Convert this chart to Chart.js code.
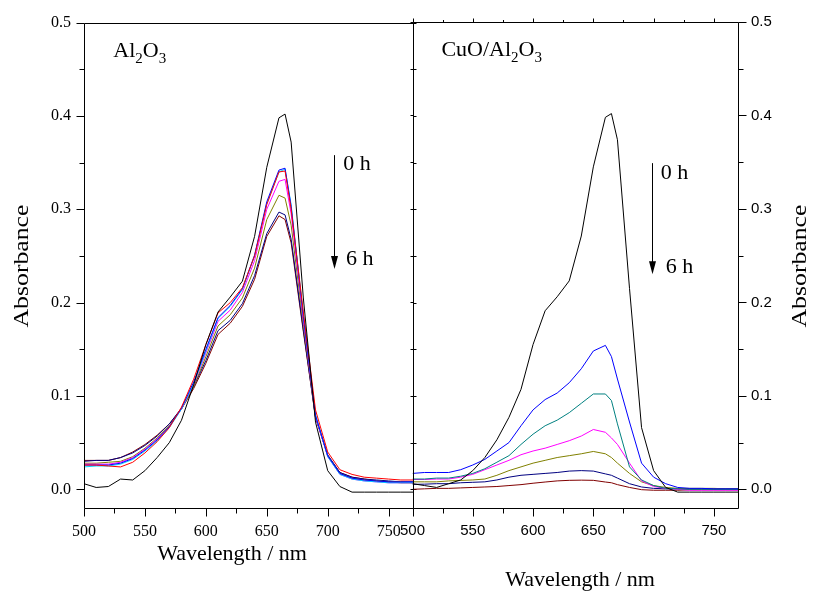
<!DOCTYPE html>
<html lang="en">
    <head>
        <meta charset="UTF-8" />
        <title>Absorbance spectra</title>
        <script src="https://cdn.jsdelivr.net/npm/chart.js"></script>
        <style>
            body {
                margin: 0;
                background: #fff;
            }

            #wrap {
                position: relative;
                width: 813px;
                height: 592px;
            }

            .panel {
                position: absolute;
                top: 0;
                height: 592px;
            }

            #left {
                left: 0;
                width: 420px;
            }

            #right {
                left: 386px;
                width: 427px;
            }
        </style>
    </head>
    <body>
        <div id="wrap">
            <div class="panel" id="left"><canvas id="alChart"></canvas></div>
            <div class="panel" id="right"><canvas id="cuChart"></canvas></div>
        </div>

        <script>
            // wavelengths (nm) shared by every curve
            const wavelengths = [500, 510, 520, 530, 540, 550, 560, 570, 580, 590, 600, 610, 620, 630, 640, 650, 660, 665, 670, 680, 690, 700, 710, 720, 730, 740, 750, 760, 770];

            // Al2O3 panel, 0 h (black) down to 6 h
            const alBlack = [0.006, 0.002, 0.003, 0.011, 0.010, 0.020, 0.034, 0.050, 0.074, 0.112, 0.155, 0.190, 0.206, 0.223, 0.271, 0.345, 0.398, 0.402, 0.372, 0.205, 0.072, 0.020, 0.003, -0.003, -0.003, -0.003, -0.003, -0.003, -0.003];
            const alRed = [0.026, 0.026, 0.025, 0.024, 0.029, 0.039, 0.051, 0.066, 0.088, 0.118, 0.155, 0.189, 0.200, 0.216, 0.250, 0.305, 0.340, 0.341, 0.300, 0.190, 0.085, 0.040, 0.021, 0.016, 0.013, 0.012, 0.011, 0.010, 0.010];
            const alBlue = [0.026, 0.026, 0.026, 0.028, 0.033, 0.042, 0.053, 0.067, 0.087, 0.115, 0.150, 0.184, 0.197, 0.215, 0.251, 0.308, 0.342, 0.344, 0.303, 0.185, 0.079, 0.036, 0.017, 0.012, 0.010, 0.009, 0.008, 0.008, 0.008];
            const alCyan = [0.024, 0.025, 0.025, 0.027, 0.032, 0.041, 0.052, 0.066, 0.086, 0.113, 0.148, 0.183, 0.196, 0.214, 0.250, 0.306, 0.340, 0.343, 0.305, 0.187, 0.080, 0.035, 0.016, 0.011, 0.009, 0.008, 0.007, 0.007, 0.007];
            const alMagenta = [0.027, 0.027, 0.027, 0.029, 0.034, 0.043, 0.054, 0.067, 0.086, 0.112, 0.146, 0.180, 0.192, 0.211, 0.245, 0.300, 0.330, 0.332, 0.295, 0.182, 0.078, 0.035, 0.016, 0.011, 0.009, 0.008, 0.007, 0.007, 0.007];
            const alOlive = [0.028, 0.028, 0.029, 0.030, 0.035, 0.044, 0.055, 0.068, 0.086, 0.110, 0.142, 0.175, 0.187, 0.205, 0.237, 0.289, 0.315, 0.312, 0.283, 0.177, 0.078, 0.036, 0.017, 0.012, 0.010, 0.009, 0.008, 0.008, 0.007];
            const alNavy = [0.030, 0.031, 0.031, 0.034, 0.039, 0.047, 0.057, 0.070, 0.087, 0.110, 0.138, 0.170, 0.181, 0.199, 0.229, 0.274, 0.297, 0.294, 0.268, 0.171, 0.077, 0.037, 0.018, 0.013, 0.011, 0.010, 0.009, 0.008, 0.008];
            const alWine = [0.031, 0.031, 0.031, 0.034, 0.040, 0.048, 0.058, 0.070, 0.086, 0.108, 0.135, 0.166, 0.178, 0.196, 0.225, 0.271, 0.293, 0.289, 0.264, 0.169, 0.077, 0.036, 0.018, 0.013, 0.011, 0.009, 0.008, 0.007, 0.007];

            // CuO/Al2O3 panel
            const cuBlack = [0.006, 0.004, 0.002, 0.006, 0.010, 0.020, 0.034, 0.053, 0.077, 0.107, 0.155, 0.191, 0.206, 0.223, 0.271, 0.345, 0.398, 0.402, 0.374, 0.215, 0.066, 0.020, 0.002, -0.003, -0.003, -0.003, -0.003, -0.003, -0.003];
            const cuBlue = [0.017, 0.018, 0.018, 0.018, 0.021, 0.026, 0.032, 0.041, 0.050, 0.068, 0.085, 0.096, 0.103, 0.114, 0.129, 0.148, 0.154, 0.142, 0.118, 0.072, 0.028, 0.013, 0.006, 0.002, 0.001, 0.001, 0.0005, 0.0005, 0.0005];
            const cuTeal = [0.011, 0.011, 0.012, 0.012, 0.014, 0.017, 0.022, 0.029, 0.036, 0.048, 0.059, 0.068, 0.074, 0.082, 0.092, 0.102, 0.102, 0.095, 0.070, 0.024, 0.010, 0.004, 0.001, 0.0005, 0, 0, 0, 0, 0];
            const cuMagenta = [0.0105, 0.0105, 0.011, 0.011, 0.013, 0.016, 0.021, 0.026, 0.031, 0.037, 0.041, 0.044, 0.048, 0.052, 0.057, 0.064, 0.061, 0.055, 0.048, 0.028, 0.009, 0.003, 0.001, 0, -0.001, -0.001, -0.001, -0.001, -0.001];
            const cuOlive = [0.008, 0.008, 0.008, 0.009, 0.0095, 0.010, 0.011, 0.015, 0.020, 0.024, 0.028, 0.031, 0.034, 0.036, 0.038, 0.0405, 0.038, 0.034, 0.028, 0.017, 0.008, 0.004, 0.002, 0.001, 0.001, 0.001, 0.001, 0.0005, 0.0005];
            const cuNavy = [0.0053, 0.0055, 0.006, 0.006, 0.007, 0.0075, 0.008, 0.010, 0.013, 0.015, 0.016, 0.017, 0.018, 0.0195, 0.020, 0.0195, 0.0165, 0.015, 0.012, 0.006, 0.0025, 0.001, 0.0005, 0.0005, 0.0005, 0.0005, 0.0005, 0.0005, 0.0005];
            const cuWine = [0, 0.0005, 0.001, 0.001, 0.0015, 0.002, 0.0025, 0.003, 0.004, 0.005, 0.0065, 0.0078, 0.009, 0.0096, 0.0098, 0.0096, 0.0078, 0.007, 0.005, 0.002, -0.0004, -0.001, -0.001, -0.001, -0.0005, -0.0005, -0.0005, -0.0005, -0.0005];

            const serif = "'Liberation Serif', 'DejaVu Serif', serif";
            const sans = "'Liberation Sans', Arial, sans-serif";

            const toPoints = (values) => values.map((v, i) => ({ x: wavelengths[i], y: v }));

            function line(values, color) {
                return {
                    data: toPoints(values),
                    borderColor: color,
                    borderWidth: 1,
                    pointRadius: 0,
                    tension: 0,
                    fill: false,
                };
            }

            const isMajorY = (v) => v >= 0 && Math.abs(v * 10 - Math.round(v * 10)) < 1e-6;

            // frame box + tick marks, drawn from the scales
            const frameTicks = {
                id: 'frameTicks',
                afterDraw(chart, args, opts) {
                    const { ctx, chartArea: a, scales } = chart;
                    const x = scales.x;
                    const y = scales.y;
                    const L = Math.round(a.left) + 0.5;
                    const R = Math.round(a.right) + 0.5;
                    const T = Math.round(a.top) + 0.5;
                    const B = Math.round(a.bottom) + 0.5;
                    ctx.save();
                    ctx.strokeStyle = '#000';
                    ctx.lineWidth = 1;
                    ctx.beginPath();
                    ctx.rect(L, T, R - L, B - T);
                    x.ticks.forEach((t) => {
                        const px = Math.round(x.getPixelForValue(t.value)) + 0.5;
                        const len = t.value % 50 === 0 ? 8 : 5;
                        ctx.moveTo(px, B);
                        ctx.lineTo(px, B + len);
                        if (opts.topTicks) {
                            ctx.moveTo(px, T);
                            ctx.lineTo(px, T - len / 2);
                        }
                    });
                    y.ticks.forEach((t) => {
                        const py = Math.round(y.getPixelForValue(t.value)) + 0.5;
                        const len = isMajorY(t.value) ? 8 : 5;
                        if (opts.side === 'left') {
                            ctx.moveTo(L - len, py);
                            ctx.lineTo(L, py);
                            ctx.moveTo(R, py);
                            ctx.lineTo(R + 3, py);
                        } else {
                            ctx.moveTo(R, py);
                            ctx.lineTo(R + len, py);
                            ctx.moveTo(L - 3, py);
                            ctx.lineTo(L, py);
                        }
                    });
                    ctx.stroke();
                    ctx.restore();
                },
            };

            // axis titles, sample label and the 0 h -> 6 h arrow
            const overlayText = {
                id: 'overlayText',
                afterDraw(chart, args, o) {
                    const { ctx, scales } = chart;
                    const x = scales.x;
                    const y = scales.y;
                    ctx.save();
                    ctx.fillStyle = '#000';
                    ctx.strokeStyle = '#000';
                    ctx.textBaseline = 'middle';
                    ctx.textAlign = 'center';

                    ctx.font = `${o.titleSize}px ${serif}`;
                    ctx.fillText(o.xTitle.text, o.xTitle.cx, o.xTitle.cy);

                    // original figure is a little stretched vertically
                    ctx.save();
                    ctx.translate(o.yTitle.cx, o.yTitle.cy);
                    ctx.rotate(-Math.PI / 2);
                    ctx.scale(1.17, 1);
                    ctx.fillText(o.yTitle.text, 0, 0);
                    ctx.restore();

                    // chemical label with subscripts
                    ctx.textAlign = 'left';
                    ctx.textBaseline = 'alphabetic';
                    let lx = x.getPixelForValue(o.sample.x);
                    const ly = y.getPixelForValue(o.sample.y) + 7;
                    o.sample.parts.forEach(([txt, sub]) => {
                        ctx.font = sub ? `15px ${serif}` : `${o.labelSize}px ${serif}`;
                        ctx.fillText(txt, lx, sub ? ly + 6 : ly);
                        lx += ctx.measureText(txt).width;
                    });

                    // arrow
                    const ax = Math.round(x.getPixelForValue(o.arrow.x)) + 0.5;
                    const ay0 = y.getPixelForValue(o.arrow.from);
                    const ay1 = y.getPixelForValue(o.arrow.to);
                    ctx.lineWidth = 1;
                    ctx.beginPath();
                    ctx.moveTo(ax, ay0);
                    ctx.lineTo(ax, ay1 - 12);
                    ctx.stroke();
                    ctx.beginPath();
                    ctx.moveTo(ax - 3.5, ay1 - 13);
                    ctx.lineTo(ax + 3.5, ay1 - 13);
                    ctx.lineTo(ax, ay1);
                    ctx.closePath();
                    ctx.fill();

                    ctx.textBaseline = 'middle';
                    ctx.font = `${o.labelSize}px ${serif}`;
                    o.marks.forEach((m) => {
                        ctx.fillText(m.text, x.getPixelForValue(m.x), y.getPixelForValue(m.y));
                    });
                    ctx.restore();
                },
            };

            function buildOptions(side, tickFamily, tickSize, overlay) {
                const isLeft = side === 'left';
                return {
                    responsive: true,
                    maintainAspectRatio: false,
                    animation: false,
                    layout: {
                        padding: isLeft ? { top: 20, right: 7, left: 0, bottom: 0 } : { top: 20, left: 17, right: 0, bottom: 0 },
                    },
                    plugins: {
                        legend: { display: false },
                        tooltip: { enabled: false },
                        frameTicks: { side: side, topTicks: !isLeft },
                        overlayText: overlay,
                    },
                    scales: {
                        x: {
                            type: 'linear',
                            min: 500,
                            max: 770,
                            grid: { display: false, drawTicks: false },
                            border: { display: false },
                            ticks: {
                                stepSize: 25,
                                includeBounds: false,
                                autoSkip: false,
                                maxRotation: 0,
                                padding: 14,
                                color: '#000',
                                font: { family: tickFamily, size: tickSize },
                                callback: (v) => (v % 50 === 0 ? String(v) : ''),
                            },
                            afterFit: (s) => {
                                s.height = 84;
                            },
                        },
                        y: {
                            position: side,
                            min: -0.02,
                            max: 0.5,
                            grid: { display: false, drawTicks: false },
                            border: { display: false },
                            ticks: {
                                stepSize: 0.05,
                                includeBounds: false,
                                autoSkip: false,
                                padding: 13,
                                color: '#000',
                                font: { family: tickFamily, size: tickSize },
                                callback: (v) => (isMajorY(v) ? v.toFixed(1) : ''),
                            },
                            afterFit: (s) => {
                                s.width = isLeft ? 84 : 75;
                            },
                        },
                    },
                };
            }

            new Chart(document.getElementById('alChart'), {
                type: 'line',
                data: {
                    datasets: [
                        line(alBlack, '#000000'),
                        line(alRed, '#ff0000'),
                        line(alBlue, '#0000ff'),
                        line(alCyan, '#00d8ff'),
                        line(alMagenta, '#ff00ff'),
                        line(alOlive, '#808000'),
                        line(alNavy, '#000080'),
                        line(alWine, '#800000'),
                    ],
                },
                options: buildOptions('left', serif, 16, {
                    titleSize: 22,
                    labelSize: 22,
                    xTitle: { text: 'Wavelength / nm', cx: 232, cy: 554 },
                    yTitle: { text: 'Absorbance', cx: 22, cy: 266 },
                    sample: { x: 524, y: 0.471, parts: [['Al', 0], ['2', 1], ['O', 0], ['3', 1]] },
                    arrow: { x: 705, from: 0.358, to: 0.236 },
                    marks: [
                        { text: '0 h', x: 712.7, y: 0.3486 },
                        { text: '6 h', x: 715, y: 0.247 },
                    ],
                }),
                plugins: [frameTicks, overlayText],
            });

            new Chart(document.getElementById('cuChart'), {
                type: 'line',
                data: {
                    datasets: [
                        line(cuBlack, '#000000'),
                        line(cuBlue, '#0000ff'),
                        line(cuTeal, '#008080'),
                        line(cuMagenta, '#ff00ff'),
                        line(cuOlive, '#808000'),
                        line(cuNavy, '#000080'),
                        line(cuWine, '#800000'),
                    ],
                },
                options: buildOptions('right', sans, 15, {
                    titleSize: 22,
                    labelSize: 22,
                    xTitle: { text: 'Wavelength / nm', cx: 580 - 386, cy: 580 },
                    yTitle: { text: 'Absorbance', cx: 800 - 386, cy: 266 },
                    sample: { x: 524, y: 0.471, parts: [['CuO/Al', 0], ['2', 1], ['O', 0], ['3', 1]] },
                    arrow: { x: 698.7, from: 0.349, to: 0.23 },
                    marks: [
                        { text: '0 h', x: 706, y: 0.338 },
                        { text: '6 h', x: 710, y: 0.2377 },
                    ],
                }),
                plugins: [frameTicks, overlayText],
            });
        </script>
    </body>
</html>
